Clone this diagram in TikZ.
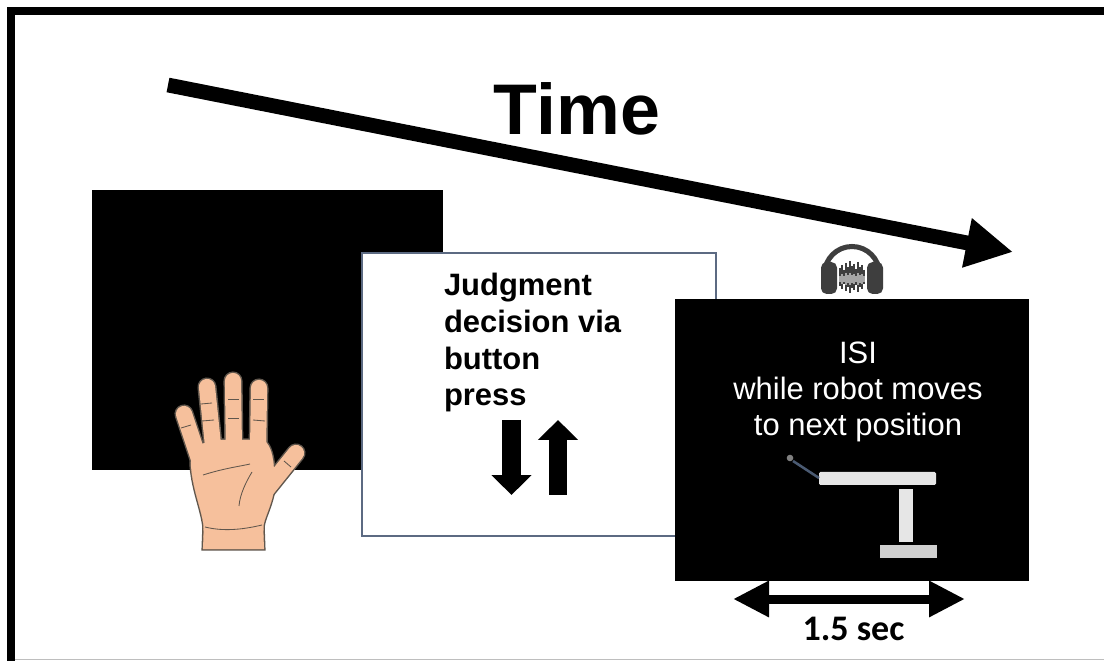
\documentclass[tikz,border=0pt]{standalone}
\usepackage{fontspec}
\setmainfont{Liberation Sans}
\newfontfamily\carlito{Carlito}
\usepackage{tikz}
\usetikzlibrary{arrows.meta,positioning,calc}
\definecolor{skin}{RGB}{246,192,156}
\definecolor{skinline}{RGB}{96,86,76}
\definecolor{slate}{RGB}{92,106,130}
\definecolor{rodgrey}{RGB}{74,90,114}
\definecolor{tablegrey}{RGB}{230,230,230}
\definecolor{basegrey}{RGB}{208,208,208}
\definecolor{phonegrey}{RGB}{62,62,62}
\definecolor{wavegrey}{RGB}{165,165,165}
\definecolor{framegrey}{RGB}{190,190,190}

\begin{document}
\begin{tikzpicture}[x=0.025cm, y=-0.025cm,
  screen/.style={rectangle, inner sep=0pt, outer sep=0pt,
    minimum width=8.85cm, minimum height=7.05cm},
  timearrow/.style={-{Triangle[length=33.4pt, width=33.4pt]}, line width=10.5pt},
  duration/.style={{Triangle[length=25.6pt, width=24.2pt]}-{Triangle[length=25.6pt, width=24.2pt]},
    line width=6.4pt},
  press/.style={-{Triangle[length=14.2pt, width=27.7pt]}, line width=13.5pt},
  lbl/.style={inner sep=0pt, outer sep=0pt}
]
  \useasboundingbox (0,0) rectangle (1104,661);
  \fill[white] (0,0) rectangle (1104,661);
  % frame
  \draw[line width=5.7pt] (11,661) -- (11,11) -- (1104,11);
  \draw[framegrey, line width=1pt] (15,659.5) -- (1104,659.5);

  % the three screens
  \node[screen, fill=black, minimum width=8.775cm, minimum height=7cm] (blank) at (267.5,330) {};

  % hand: dark pass first, skin pass on top
  \foreach \col/\w/\lw in {skinline/13.6pt/2.2pt, skin/11.5pt/0.1pt} {
    \foreach \xa/\ya/\xb/\yb in {202/468/184/414, 214/455/207/387, 234/455/233/381,
                                 258/455/259/388, 263/494/296/453}
      \draw[\col, line cap=round, line width=\w] (\xa,\ya) -- (\xb,\yb);
    \filldraw[\col, line width=\lw] (191,466) .. controls (190,445) and (205,440) .. (225,440)
      -- (263,440) .. controls (273,445) and (276,468) .. (273,495)
      .. controls (269,512) and (263,520) .. (263,530) -- (204,530)
      .. controls (203,512) and (193,492) .. cycle;
    \filldraw[\col, line width=\lw] (204,522) -- (203,549) -- (264,549) -- (263,522) -- cycle;
  }
  \begin{scope}[skinline, line width=0.6pt]
    \draw (201,404) -- (212,403);  \draw (202,421) -- (214,420);
    \draw (228,399) -- (239,399);  \draw (228,418) -- (239,418);
    \draw (253,399) -- (264,399);  \draw (253,420) -- (265,421);
    \draw (181,428) -- (191,425);  \draw (284,461) -- (291,467);
    \draw (203,475) .. controls (225,468) and (242,466) .. (250,464);
    \draw (252,472) .. controls (246,482) and (240,494) .. (239,506);
    \draw (205,527) .. controls (225,532) and (245,529) .. (262,525);
  \end{scope}

  \node[screen, fill=white, draw=slate, line width=1pt,
        minimum height=7.075cm] (judge) at (539,394.5) {};
  \node[screen, fill=black] (isi) at (852,440) {};

  % texts
  \node[lbl, anchor=base] (timelbl) at (577,135)
    {\bfseries\fontsize{51}{60}\selectfont Time};
  \node[lbl, anchor=north west, align=left, font=\bfseries\fontsize{22}{26.2}\selectfont]
    (jtext) at (444,273) {Judgment\\decision via\\button\\press};
  \node[lbl, anchor=north, align=center, white, font=\fontsize{22}{25.6}\selectfont]
    (isitext) at (858,342) {ISI\\while robot moves\\to next position};
  \node[lbl, anchor=base] (durlbl) at (853.5,640)
    {\carlito\bfseries\fontsize{25.6}{30}\selectfont 1.5 sec};

  % button arrows
  \coordinate (dntop) at (511.5,420);
  \coordinate (dnbot) at (511.5,495);
  \coordinate (upbot) at (558,495);
  \coordinate (uptop) at (558,420);
  \draw[press] (dntop) -- (dnbot);
  \draw[press] (upbot) -- (uptop);

  % robot arm and table
  \fill[tablegrey, rounded corners=1pt] (819,472) rectangle (936,485);
  \fill[tablegrey] (899,489) rectangle (913,542);
  \fill[basegrey] (880,545) rectangle (937,558);
  \draw[rodgrey, line width=1.8pt] (793,461) -- (819,478);
  \fill[gray] (790,458) circle (3.3);

  % headphones
  \draw[phonegrey, line width=3.6pt] (824.5,274) arc (180:360:27.5);
  \fill[phonegrey, rounded corners=4pt] (821,262) rectangle (837,294);
  \fill[phonegrey, rounded corners=4pt] (867,262) rectangle (883,294);
  \foreach \x/\h in {840/9, 842/12, 844/7, 846/14, 848/10, 850/16, 852/11,
                     854/13, 856/8, 858/15, 860/10, 862/12, 864/7}
    \draw[phonegrey, line width=1.3pt] (\x,277-\h) -- (\x,277+\h);
  \foreach \x/\h in {840/3, 842/5, 844/3, 846/6, 848/4, 850/6, 852/4,
                     854/5, 856/3, 858/6, 860/4, 862/5, 864/3}
    \draw[wavegrey, line width=0.8pt] (\x,279-\h) -- (\x,279+\h);

  % duration arrow
  \coordinate (dleft) at (733,599);
  \coordinate (dright) at (965,599);
  \draw[duration] (dleft) -- (dright);

  % time arrow
  \coordinate (tstart) at (168,85);
  \coordinate (tend) at (1013,252);
  \draw[timearrow] (tstart) -- (tend);
\end{tikzpicture}
\end{document}
